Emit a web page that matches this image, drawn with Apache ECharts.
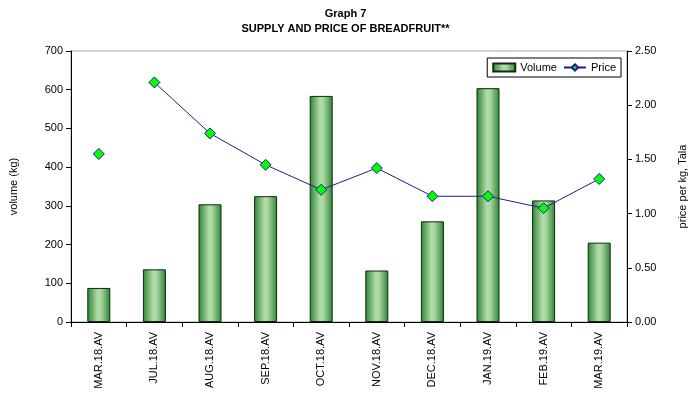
<!DOCTYPE html>
<html><head><meta charset="utf-8">
<script src="https://cdn.jsdelivr.net/npm/echarts@6/dist/echarts.min.js"></script>
<style>html,body{margin:0;padding:0;background:#fff}#c{width:691px;height:403px}</style>
</head><body><div id="c"></div>
<script>
const categories = ['MAR.18.AV','JUL.18.AV','AUG.18.AV','SEP.18.AV','OCT.18.AV','NOV.18.AV','DEC.18.AV','JAN.19.AV','FEB.19.AV','MAR.19.AV'];
const volume = [88, 136, 304, 325, 584, 133, 260, 604, 314, 205];
const price = [1.55, 2.21, 1.74, 1.45, 1.22, 1.42, 1.16, 1.16, 1.05, 1.32];
const volumeTicks = [0,100,200,300,400,500,600,700];
const priceTicks = ['0.00','0.50','1.00','1.50','2.00','2.50'];

const priceLine = price.map((v,i)=> i===0 ? null : v);
const priceFirst = price.map((v,i)=> i===0 ? v : null);
const font = 'Liberation Sans, Arial, sans-serif';
const chart = echarts.init(document.getElementById('c'));
const barGrad = new echarts.graphic.LinearGradient(0,0,1,0,[
  {offset:0,color:'#2a8530'},{offset:0.45,color:'#b2dcaa'},{offset:0.6,color:'#a8d6a0'},{offset:1,color:'#2a8530'}]);
chart.setOption({
  animation:false,
  title:{text:'Graph 7\nSUPPLY AND PRICE OF BREADFRUIT**',left:'center',top:1,
    textStyle:{fontFamily:font,fontSize:11,fontWeight:'bold',color:'#000',lineHeight:15}},
  legend:{right:70,top:58,itemGap:6,itemWidth:22,itemHeight:8,
    borderColor:'#000',borderWidth:1,padding:[4,5,4,5],
    textStyle:{fontFamily:font,fontSize:11,color:'#000'},
    data:[{name:'Volume',icon:'rect'},{name:'Price'}]},
  grid:{left:71,right:64,top:51,bottom:81,show:true,borderColor:'#a0a0a0',borderWidth:1,
    containLabel:false,outerBoundsMode:'none'},
  xAxis:{type:'category',data:categories,
    axisLine:{lineStyle:{color:'#000'}},
    axisTick:{show:true,length:5,inside:false,lineStyle:{color:'#000'}},
    axisLabel:{rotate:90,fontFamily:font,fontSize:11,color:'#000',margin:10}},
  yAxis:[
    {type:'value',min:0,max:700,interval:100,name:'volume (kg)',nameLocation:'middle',nameGap:52,
     nameTextStyle:{fontFamily:font,fontSize:11,color:'#000'},
     axisLine:{show:true,lineStyle:{color:'#000'}},axisTick:{show:true,length:5,lineStyle:{color:'#000'}},
     splitLine:{show:false},
     axisLabel:{fontFamily:font,fontSize:11,color:'#000',margin:8,
       formatter:(v)=>String(volumeTicks[Math.round(v/100)])}},
    {type:'value',min:0,max:2.5,interval:0.5,name:'price per kg, Tala',nameLocation:'middle',nameGap:50,
     nameRotate:90,
     nameTextStyle:{fontFamily:font,fontSize:11,color:'#000'},
     axisLine:{show:true,lineStyle:{color:'#000'}},axisTick:{show:true,length:5,lineStyle:{color:'#000'}},
     splitLine:{show:false},
     axisLabel:{fontFamily:font,fontSize:11,color:'#000',margin:8,
       formatter:(v)=>priceTicks[Math.round(v/0.5)]}}
  ],
  series:[
    {name:'Volume',type:'bar',data:volume,barWidth:23,yAxisIndex:0,
     itemStyle:{color:barGrad,borderColor:'#0f2a0f',borderWidth:1}},
    {name:'Price',type:'line',data:priceLine,yAxisIndex:1,connectNulls:false,
     symbol:'diamond',symbolSize:11,showAllSymbol:true,
     lineStyle:{color:'#1c1c8c',width:1},
     itemStyle:{color:'#00ff00',borderColor:'#1c1c8c',borderWidth:1}},
    {name:'Price',type:'line',data:priceFirst,yAxisIndex:1,
     symbol:'diamond',symbolSize:11,showAllSymbol:true,
     lineStyle:{color:'#1c1c8c',width:1},
     itemStyle:{color:'#00ff00',borderColor:'#1c1c8c',borderWidth:1}}
  ]
});
</script></body></html>
